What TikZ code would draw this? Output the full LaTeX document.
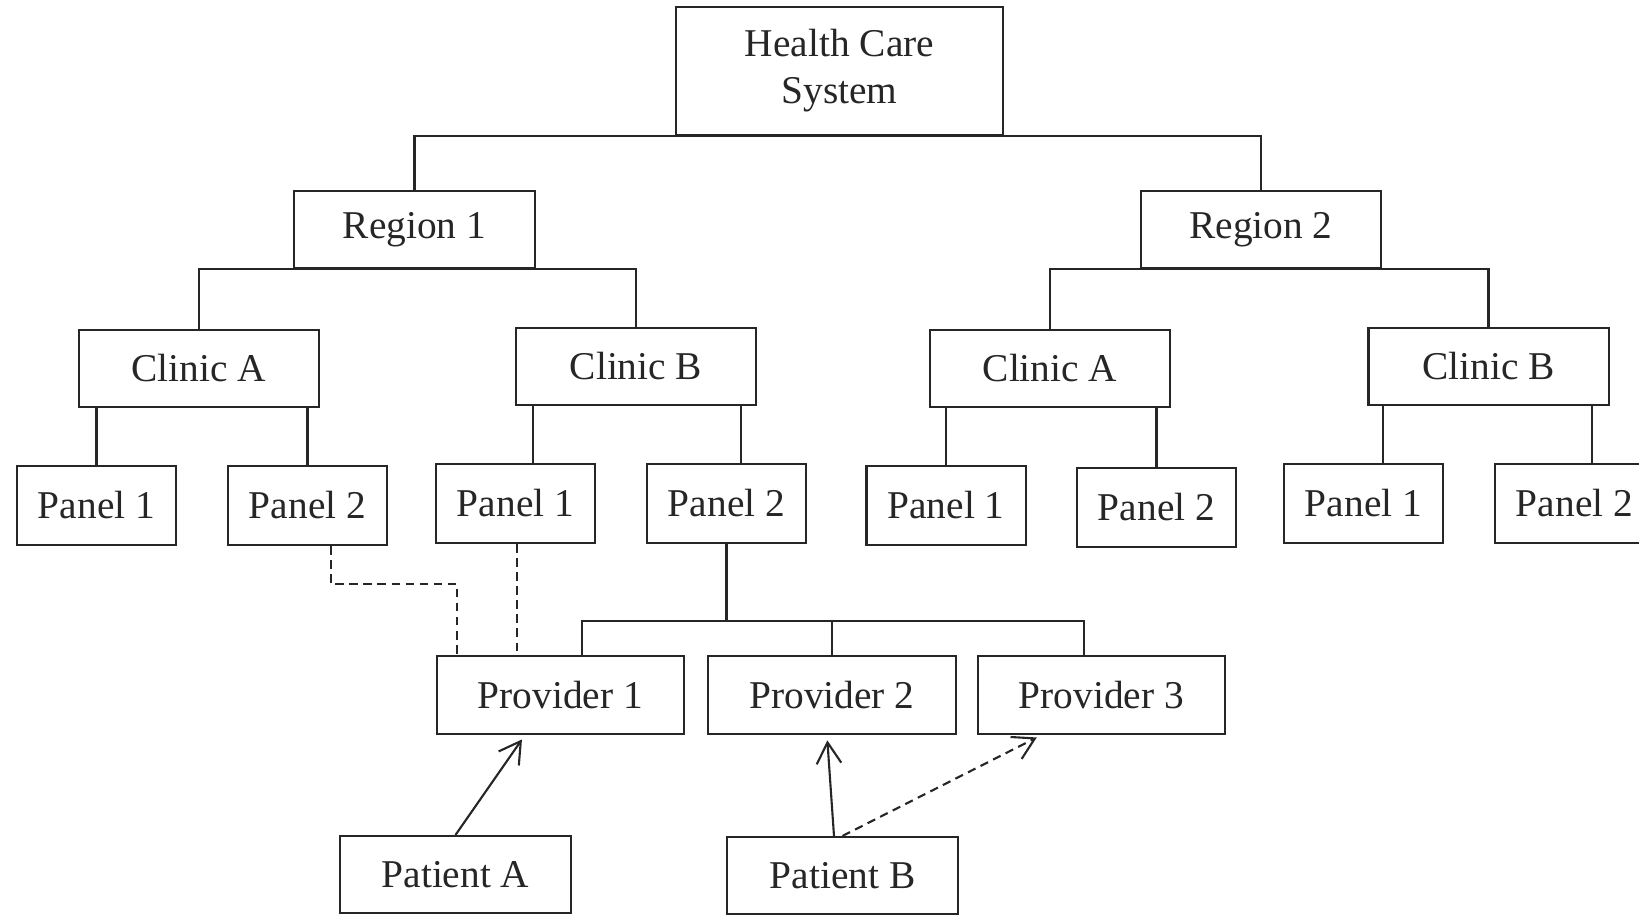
\documentclass[tikz,border=0pt]{standalone}
\usepackage{fontspec}
\setmainfont{Liberation Serif}
\usepackage{tikz}
\usetikzlibrary{arrows.meta, positioning}

\begin{document}
\begin{tikzpicture}[
    x=0.01cm, y=-0.01cm,
    color=black!85, line width=0.6pt,
    box/.style={rectangle, draw, inner sep=0pt, align=center,
                font=\fontsize{11.2}{13.4}\selectfont},
    hbox/.style={box, minimum width=3.27cm, minimum height=1.28cm},
    orgbox/.style={box, minimum width=2.40cm, minimum height=0.77cm},
    panbox/.style={box, minimum width=1.59cm, minimum height=0.79cm},
    provbox/.style={box, minimum width=2.47cm, minimum height=0.78cm},
    patbox/.style={box, minimum width=2.31cm, minimum height=0.77cm},
    arr/.style={-{Straight Barb[length=6pt, width=7pt]}, shorten >=1.5pt},
    dline/.style={dash pattern=on 2.4pt off 1.6pt},
  ]
    \useasboundingbox (0,0) rectangle (1639,914);
    \clip (0,0) rectangle (1639,914);

    \node[hbox] (hcs) at (839.5,71) {Health Care\\System};
    \node[orgbox] (reg1) at (414.5,229.5) {Region 1};
    \node[orgbox] (reg2) at (1261,229.5) {Region 2};
    \node[orgbox] (clA1) at (199,368.5) {Clinic A};
    \node[orgbox] (clB1) at (636,366.5) {Clinic B};
    \node[orgbox] (clA2) at (1050,368.5) {Clinic A};
    \node[orgbox] (clB2) at (1488.5,366.5) {Clinic B};

    \node[panbox] (pA11) at (96.5,505.5) {Panel 1};
    \node[panbox] (pA12) at (307.5,505.5) {Panel 2};
    \node[panbox] (pB11) at (515.5,503.5) {Panel 1};
    \node[panbox] (pB12) at (726.5,503.5) {Panel 2};
    \node[panbox] (pA21) at (946,505.5) {Panel 1};
    \node[panbox] (pA22) at (1156.5,507.5) {Panel 2};
    \node[panbox] (pB21) at (1363.5,503.5) {Panel 1};
    \node[panbox] (pB22) at (1574.5,503.5) {Panel 2};

    \node[provbox] (pr1) at (560.5,695) {Provider 1};
    \node[provbox] (pr2) at (832,695) {Provider 2};
    \node[provbox] (pr3) at (1101.5,695) {Provider 3};

    \node[patbox] (patA) at (455.5,874.5) {Patient A};
    \node[patbox] (patB) at (842.5,875.5) {Patient B};

    % Tree
    \draw (reg1.north) |- (hcs.south) -| (reg2.north);
    \draw (clA1.north) |- (reg1.south) -| (clB1.north);
    \draw (clA2.north) |- (reg2.south) -| (clB2.north);

    \draw (pA11.north) -- (pA11.north |- clA1.south);
    \draw (pA12.north) -- (pA12.north |- clA1.south);
    \draw ([xshift=0.175cm]pB11.north) -- ([xshift=0.175cm]pB11.north |- clB1.south);
    \draw ([xshift=0.145cm]pB12.north) -- ([xshift=0.145cm]pB12.north |- clB1.south);
    \draw (pA21.north) -- (pA21.north |- clA2.south);
    \draw (pA22.north) -- (pA22.north |- clA2.south);
    \draw ([xshift=0.195cm]pB21.north) -- ([xshift=0.195cm]pB21.north |- clB2.south);
    \draw ([xshift=0.175cm]pB22.north) -- ([xshift=0.175cm]pB22.north |- clB2.south);

    \coordinate (bus) at (726.5,621);
    \draw (pB12.south) -- (bus);
    \draw ([xshift=0.215cm]pr1.north) |- (bus) -| ([xshift=-0.175cm]pr3.north);
    \draw (pr2.north) -- (pr2.north |- bus);

    % Dashed links to Provider 1
    \coordinate (jog) at (457,584);
    \draw[dline] ([xshift=0.235cm]pA12.south) |- (jog) -- (jog |- pr1.north);
    \draw[dline] ([xshift=0.015cm]pB11.south) -- ([xshift=0.015cm]pB11.south |- pr1.north);

    % Patients
    \draw[arr] (patA.north) -- ([xshift=-0.355cm]pr1.south);
    \draw[arr] ([xshift=-0.085cm]patB.north) -- ([xshift=-0.05cm]pr2.south);
    \draw[arr, dline] (patB.north) -- ([xshift=-0.6cm]pr3.south);
  \end{tikzpicture}
\end{document}
